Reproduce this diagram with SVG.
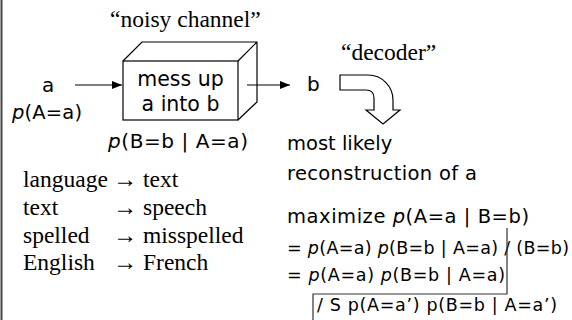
<svg xmlns="http://www.w3.org/2000/svg" width="572" height="320" viewBox="0 0 572 320">
<style>
.s{font-family:"DejaVu Sans","Liberation Sans",sans-serif;fill:#000}
.r{font-family:"Liberation Serif","Times New Roman",serif;fill:#000;font-size:23.5px}
.i{font-style:italic}
.ln{stroke:#000;stroke-width:1.2;fill:none}
</style>
<defs>
<marker id="ah" markerWidth="10" markerHeight="8" refX="10" refY="4" orient="auto" markerUnits="userSpaceOnUse">
<path d="M0,0 L10,4 L0,8 Z" fill="#000"/>
</marker>
</defs>
<rect width="572" height="320" fill="#fff"/>
<line x1="1.5" y1="0" x2="1.5" y2="320" stroke="#444" stroke-width="2"/>

<g id="input">
<text class="s" x="42" y="92" font-size="20">a</text>
<text class="s" x="12" y="119" font-size="19.5" textLength="70" lengthAdjust="spacing"><tspan class="i">p</tspan>(A=a)</text>
</g>

<g id="channel">
<text class="r" x="110" y="27">“noisy channel”</text>
<path class="ln" d="M123,61 L142,42 H257 V102 L238,120 M238,61 L257,42"/>
<rect class="ln" x="123" y="61" width="115" height="59" fill="#fff"/>
<text class="s" x="180.5" y="86" font-size="20.5" text-anchor="middle">mess up</text>
<text class="s" x="180.5" y="111" font-size="20.5" text-anchor="middle">a into b</text>
<text class="s" x="108" y="148" font-size="20" textLength="140" lengthAdjust="spacing"><tspan class="i">p</tspan>(B=b | A=a)</text>
</g>

<g id="output">
<text class="s" x="307" y="91" font-size="20">b</text>
</g>

<g id="decoder">
<text class="r" x="341" y="60">“decoder”</text>
<path class="ln" d="M340,75 H368 A25,25 0 0 1 393,100 V110 H400 L383,124 L366,110 H374 V98 Q374,90 366,90 H340 Z" fill="#fff"/>
</g>

<g id="connectors">
<line class="ln" x1="75" y1="85" x2="122" y2="85" marker-end="url(#ah)"/>
<line class="ln" x1="247" y1="85" x2="290" y2="85" marker-end="url(#ah)"/>
</g>

<g id="reconstruction">
<text class="s" x="287" y="150" font-size="19.5">most likely</text>
<text class="s" x="287" y="180" font-size="19.5" textLength="190" lengthAdjust="spacing">reconstruction of a</text>
<text class="s" x="287" y="223" font-size="19.5" textLength="242" lengthAdjust="spacing">maximize <tspan class="i">p</tspan>(A=a | B=b)</text>
<text class="s" x="287" y="254" font-size="17.5" textLength="282" lengthAdjust="spacing">= <tspan class="i">p</tspan>(A=a) <tspan class="i">p</tspan>(B=b | A=a) / (B=b)</text>
<text class="s" x="287" y="281" font-size="17.5" textLength="218" lengthAdjust="spacing">= <tspan class="i">p</tspan>(A=a) <tspan class="i">p</tspan>(B=b | A=a)</text>
<text class="s" x="317" y="311" font-size="17.5" textLength="240" lengthAdjust="spacing">/ S p(A=a’) p(B=b | A=a’)</text>
<path d="M507,228 V294 H313 V320" stroke="#333" stroke-width="1.2" fill="none"/>
</g>

<g id="examples">
<text class="r" x="23" y="187">language</text><text class="r" x="113" y="187" textLength="24" lengthAdjust="spacingAndGlyphs">→</text><text class="r" x="143" y="187">text</text>
<text class="r" x="23" y="215">text</text><text class="r" x="113" y="215" textLength="24" lengthAdjust="spacingAndGlyphs">→</text><text class="r" x="143" y="215">speech</text>
<text class="r" x="23" y="243">spelled</text><text class="r" x="113" y="243" textLength="24" lengthAdjust="spacingAndGlyphs">→</text><text class="r" x="143" y="243">misspelled</text>
<text class="r" x="23" y="270">English</text><text class="r" x="113" y="270" textLength="24" lengthAdjust="spacingAndGlyphs">→</text><text class="r" x="143" y="270">French</text>
</g>
</svg>
